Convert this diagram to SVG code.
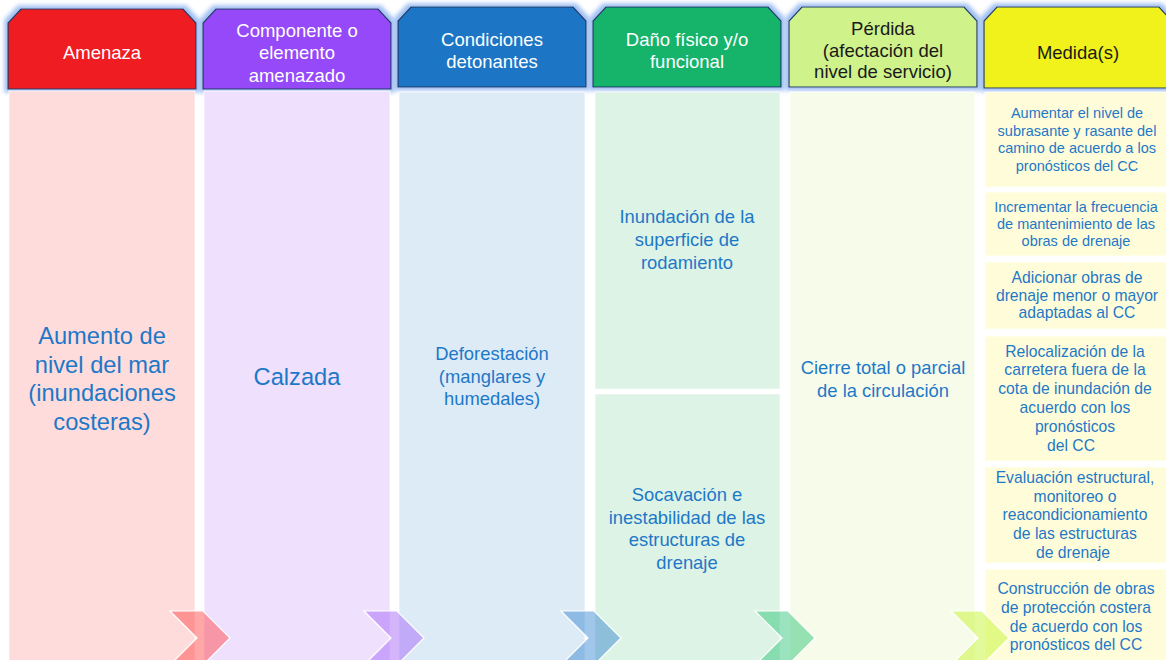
<svg xmlns="http://www.w3.org/2000/svg" width="1166" height="660" viewBox="0 0 1166 660">
<defs>
<filter id="glow" x="-10%" y="-20%" width="120%" height="140%">
<feMorphology in="SourceAlpha" operator="dilate" radius="2.5" result="d"/>
<feGaussianBlur in="d" stdDeviation="2" result="b"/>
<feFlood flood-color="#8DB3F0" flood-opacity="0.85"/>
<feComposite in2="b" operator="in" result="g"/>
<feMerge><feMergeNode in="g"/><feMergeNode in="SourceGraphic"/></feMerge>
</filter>
<style>
text{font-family:"Liberation Sans",Arial,sans-serif;text-anchor:middle}
.hd{stroke:#1F3864;stroke-width:1.2;filter:url(#glow)}
.ht{font-size:18.5px;fill:#FFFFFF}
.htd{font-size:18.5px;fill:#1A1A1A}
.bt{fill:#1E78C8}
.big{font-size:23.7px}
.mid{font-size:18.4px}
.sm{font-size:14.5px}
.sm2{font-size:15.7px}
.col{stroke:#FFFFFF;stroke-opacity:0.7;stroke-width:1}
.chev{stroke:#FFFFFF;stroke-width:1.2;fill-opacity:0.45}
</style>
</defs>
<rect width="1166" height="660" fill="#FFFFFF"/>

<g id="col-amenaza">
<path class="hd" d="M21,9 H183 L196,23 V89 H8 V23 Z" fill="#EF1B24"/>
<text class="ht" x="102" y="59">Amenaza</text>
<rect class="col" x="9" y="91" width="186" height="575" fill="#FDDCDB"/>
<text class="bt big" x="102" y="344">Aumento de</text>
<text class="bt big" x="102" y="373">nivel del mar</text>
<text class="bt big" x="102" y="401">(inundaciones</text>
<text class="bt big" x="102" y="430">costeras)</text>
</g>

<g id="col-componente">
<path class="hd" d="M216,9 H378 L391,23 V89 H203 V23 Z" fill="#9549F8"/>
<text class="ht" x="297" y="37">Componente o</text>
<text class="ht" x="297" y="59">elemento</text>
<text class="ht" x="297" y="82">amenazado</text>
<rect class="col" x="204" y="91" width="186" height="575" fill="#EFE1FD"/>
<text class="bt big" x="297" y="385">Calzada</text>
</g>

<g id="col-condiciones">
<path class="hd" d="M411,7 H573 L586,21 V87 H398 V21 Z" fill="#1A76C5"/>
<text class="ht" x="492" y="46">Condiciones</text>
<text class="ht" x="492" y="68">detonantes</text>
<rect class="col" x="399" y="92" width="186" height="574" fill="#DDEBF6"/>
<text class="bt mid" x="492" y="360">Deforestación</text>
<text class="bt mid" x="492" y="383">(manglares y</text>
<text class="bt mid" x="492" y="405">humedales)</text>
</g>

<g id="col-dano">
<path class="hd" d="M606,7 H768 L781,21 V87 H593 V21 Z" fill="#14B36A"/>
<text class="ht" x="687" y="46">Daño físico y/o</text>
<text class="ht" x="687" y="68">funcional</text>
<rect class="col" x="595" y="92" width="185" height="297" fill="#DCF3E5"/>
<text class="bt mid" x="687" y="223">Inundación de la</text>
<text class="bt mid" x="687" y="246">superficie de</text>
<text class="bt mid" x="687" y="269">rodamiento</text>
<rect class="col" x="595" y="394" width="185" height="272" fill="#DCF3E5"/>
<text class="bt mid" x="687" y="501">Socavación e</text>
<text class="bt mid" x="687" y="524">inestabilidad de las</text>
<text class="bt mid" x="687" y="546">estructuras de</text>
<text class="bt mid" x="687" y="569">drenaje</text>
</g>

<g id="col-perdida">
<path class="hd" d="M802,7 H964 L977,21 V87 H789 V21 Z" fill="#CFF28B"/>
<text class="htd" x="883" y="35">Pérdida</text>
<text class="htd" x="883" y="57">(afectación del</text>
<text class="htd" x="883" y="78">nivel de servicio)</text>
<rect class="col" x="790" y="92" width="185" height="574" fill="#F7FCEA"/>
<text class="bt mid" x="883" y="374">Cierre total o parcial</text>
<text class="bt mid" x="883" y="397">de la circulación</text>
</g>

<g id="col-medidas">
<path class="hd" d="M997,7 H1159 L1172,21 V88 H984 V21 Z" fill="#F1F21F"/>
<text class="htd" x="1078" y="59">Medida(s)</text>
<rect class="col" x="985" y="92" width="185" height="95" fill="#FFFDD9"/>
<text class="bt sm" x="1077" y="118">Aumentar el nivel de</text>
<text class="bt sm" x="1077" y="135.5">subrasante y rasante del</text>
<text class="bt sm" x="1077" y="153">camino de acuerdo a los</text>
<text class="bt sm" x="1077" y="170.5">pronósticos del CC</text>
<rect class="col" x="985" y="192" width="185" height="64" fill="#FFFDD9"/>
<text class="bt sm" x="1076" y="212">Incrementar la frecuencia</text>
<text class="bt sm" x="1076" y="229">de mantenimiento de las</text>
<text class="bt sm" x="1076" y="246">obras de drenaje</text>
<rect class="col" x="985" y="262" width="185" height="67" fill="#FFFDD9"/>
<text class="bt sm2" x="1077" y="283">Adicionar obras de</text>
<text class="bt sm2" x="1077" y="300.5">drenaje menor o mayor</text>
<text class="bt sm2" x="1077" y="318">adaptadas al CC</text>
<rect class="col" x="985" y="336" width="185" height="125" fill="#FFFDD9"/>
<text class="bt sm2" x="1075" y="356.5">Relocalización de la</text>
<text class="bt sm2" x="1075" y="375.3">carretera fuera de la</text>
<text class="bt sm2" x="1075" y="394">cota de inundación de</text>
<text class="bt sm2" x="1075" y="413">acuerdo con los</text>
<text class="bt sm2" x="1075" y="431.5">pronósticos</text>
<text class="bt sm2" x="1071" y="450.5">del CC</text>
<rect class="col" x="985" y="467" width="185" height="96" fill="#FFFDD9"/>
<text class="bt sm2" x="1075" y="482.5">Evaluación estructural,</text>
<text class="bt sm2" x="1075" y="501.5">monitoreo o</text>
<text class="bt sm2" x="1075" y="520">reacondicionamiento</text>
<text class="bt sm2" x="1075" y="539">de las estructuras</text>
<text class="bt sm2" x="1073" y="558">de drenaje</text>
<rect class="col" x="985" y="569" width="185" height="97" fill="#FFFDD9"/>
<text class="bt sm2" x="1076" y="594">Construcción de obras</text>
<text class="bt sm2" x="1076" y="613">de protección costera</text>
<text class="bt sm2" x="1076" y="631.5">de acuerdo con los</text>
<text class="bt sm2" x="1076" y="650">pronósticos del CC</text>
</g>

<g id="connectors">
<path class="chev" d="M170,611 H203 L230,638 L203,665 H170 L197,638 Z" fill="#FF3C3C"/>
<path class="chev" d="M364,611 H397 L424,638 L397,665 H364 L391,638 Z" fill="#A05CF8"/>
<path class="chev" d="M561,611 H594 L621,638 L594,665 H561 L588,638 Z" fill="#2C80CF"/>
<path class="chev" d="M755,611 H788 L815,638 L788,665 H755 L782,638 Z" fill="#1EC06E"/>
<path class="chev" d="M951,611 H982 L1009,638 L982,665 H951 L978,638 Z" fill="#BEF41E" fill-opacity="0.5"/>
</g>
</svg>
